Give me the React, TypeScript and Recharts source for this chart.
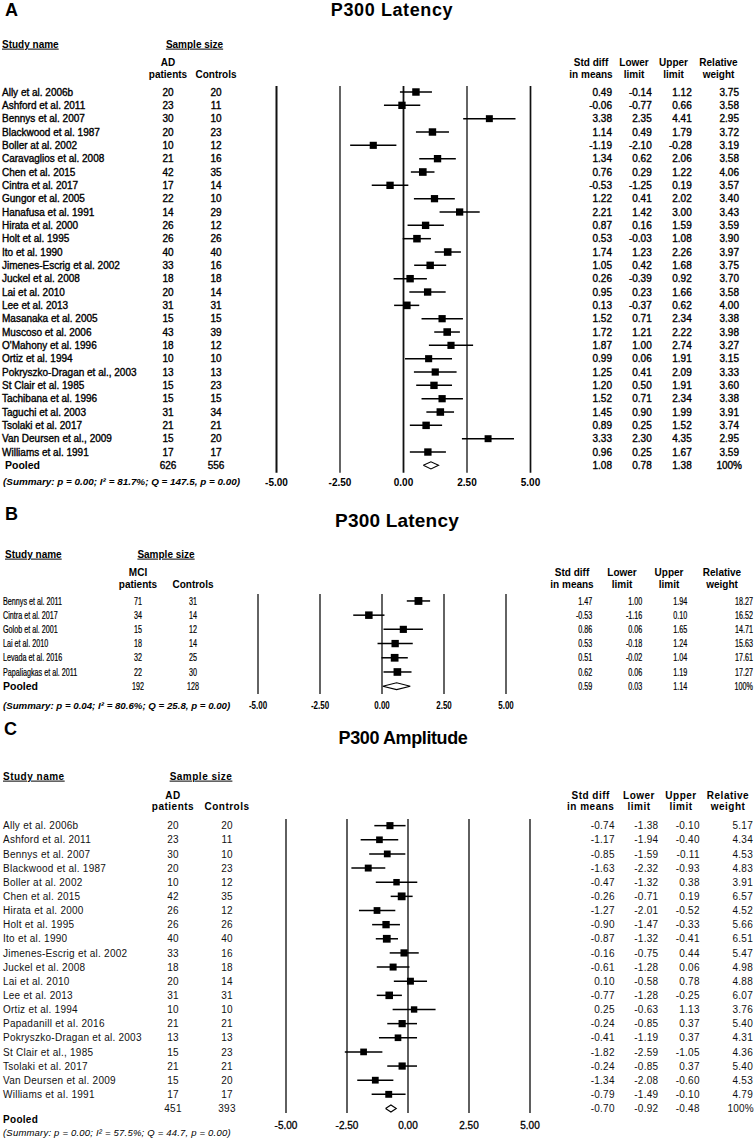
import React from 'react';
import { ScatterChart, Scatter, XAxis, YAxis, ReferenceLine, ErrorBar } from 'recharts';

const FONT = '"Liberation Sans", Arial, Helvetica, sans-serif';
const xTicks = [-5, -2.5, 0, 2.5, 5];

// ---------- Panel A: P300 Latency (AD) ----------
const aStudies = [
  'Ally et al. 2006b', 'Ashford et al. 2011', 'Bennys et al. 2007', 'Blackwood et al. 1987', 'Boller at al. 2002',
  'Caravaglios et al. 2008', 'Chen et al. 2015', 'Cintra et al. 2017', 'Gungor et al. 2005', 'Hanafusa et al. 1991',
  'Hirata et al. 2000', 'Holt et al. 1995', 'Ito et al. 1990', 'Jimenes-Escrig et al. 2002', 'Juckel et al. 2008',
  'Lai et al. 2010', 'Lee et al. 2013', 'Masanaka et al. 2005', 'Muscoso et al. 2006', "O'Mahony et al. 1996",
  'Ortiz et al. 1994', 'Pokryszko-Dragan et al., 2003', 'St Clair et al. 1985', 'Tachibana et al. 1996',
  'Taguchi et al. 2003', 'Tsolaki et al. 2017', 'Van Deursen et al., 2009', 'Williams et al. 1991',
];
const aPatients = [20, 23, 30, 20, 10, 21, 42, 17, 22, 14, 26, 26, 40, 33, 18, 20, 31, 15, 43, 18, 10, 13, 15, 15, 31, 21, 15, 17];
const aControls = [20, 11, 10, 23, 12, 16, 35, 14, 10, 29, 12, 26, 40, 16, 18, 14, 31, 15, 39, 12, 10, 13, 23, 15, 34, 21, 20, 17];
const aEs = [0.49, -0.06, 3.38, 1.14, -1.19, 1.34, 0.76, -0.53, 1.22, 2.21, 0.87, 0.53, 1.74, 1.05, 0.26, 0.95, 0.13, 1.52, 1.72, 1.87, 0.99, 1.25, 1.2, 1.52, 1.45, 0.89, 3.33, 0.96];
const aLower = [-0.14, -0.77, 2.35, 0.49, -2.1, 0.62, 0.29, -1.25, 0.41, 1.42, 0.16, -0.03, 1.23, 0.42, -0.39, 0.23, -0.37, 0.71, 1.21, 1.0, 0.06, 0.41, 0.5, 0.71, 0.9, 0.25, 2.3, 0.25];
const aUpper = [1.12, 0.66, 4.41, 1.79, -0.28, 2.06, 1.22, 0.19, 2.02, 3.0, 1.59, 1.08, 2.26, 1.68, 0.92, 1.66, 0.62, 2.34, 2.22, 2.74, 1.91, 2.09, 1.91, 2.34, 1.99, 1.52, 4.35, 1.67];
const aWeight = [3.75, 3.58, 2.95, 3.72, 3.19, 3.58, 4.06, 3.57, 3.4, 3.43, 3.59, 3.9, 3.97, 3.75, 3.7, 3.58, 4.0, 3.38, 3.98, 3.27, 3.15, 3.33, 3.6, 3.38, 3.91, 3.74, 2.95, 3.59];
const aPooled = { n1: 626, n2: 556, es: 1.08, lo: 0.78, hi: 1.38 };

// ---------- Panel B: P300 Latency (MCI) ----------
const bStudies = ['Bennys et al. 2011', 'Cintra et al. 2017', 'Golob et al. 2001', 'Lai et al. 2010', 'Levada et al. 2016', 'Papaliagkas et al. 2011'];
const bPatients = [71, 34, 15, 18, 32, 22];
const bControls = [31, 14, 12, 14, 25, 30];
const bEs = [1.47, -0.53, 0.86, 0.53, 0.51, 0.62];
const bLower = [1.0, -1.16, 0.06, -0.18, -0.02, 0.06];
const bUpper = [1.94, 0.1, 1.65, 1.24, 1.04, 1.19];
const bWeight = [18.27, 16.52, 14.71, 15.63, 17.61, 17.27];
const bPooled = { n1: 192, n2: 128, es: 0.59, lo: 0.03, hi: 1.14 };

// ---------- Panel C: P300 Amplitude (AD) ----------
const cStudies = [
  'Ally et al. 2006b', 'Ashford et al. 2011', 'Bennys et al. 2007', 'Blackwood et al. 1987', 'Boller at al. 2002',
  'Chen et al. 2015', 'Hirata et al. 2000', 'Holt et al. 1995', 'Ito et al. 1990', 'Jimenes-Escrig et al. 2002',
  'Juckel et al. 2008', 'Lai et al. 2010', 'Lee et al. 2013', 'Ortiz et al. 1994', 'Papadanill et al. 2016',
  'Pokryszko-Dragan et al. 2003', 'St Clair et al., 1985', 'Tsolaki et al. 2017', 'Van Deursen et al. 2009', 'Williams et al. 1991',
];
const cPatients = [20, 23, 30, 20, 10, 42, 26, 26, 40, 33, 18, 20, 31, 10, 21, 13, 15, 21, 15, 17];
const cControls = [20, 11, 10, 23, 12, 35, 12, 26, 40, 16, 18, 14, 31, 10, 21, 13, 23, 21, 20, 17];
const cEs = [-0.74, -1.17, -0.85, -1.63, -0.47, -0.26, -1.27, -0.9, -0.87, -0.16, -0.61, 0.1, -0.77, 0.25, -0.24, -0.41, -1.82, -0.24, -1.34, -0.79];
const cLower = [-1.38, -1.94, -1.59, -2.32, -1.32, -0.71, -2.01, -1.47, -1.32, -0.75, -1.28, -0.58, -1.28, -0.63, -0.85, -1.19, -2.59, -0.85, -2.08, -1.49];
const cUpper = [-0.1, -0.4, -0.11, -0.93, 0.38, 0.19, -0.52, -0.33, -0.41, 0.44, 0.06, 0.78, -0.25, 1.13, 0.37, 0.37, -1.05, 0.37, -0.6, -0.1];
const cWeight = [5.17, 4.34, 4.53, 4.83, 3.91, 6.57, 4.52, 5.66, 6.51, 5.47, 4.98, 4.88, 6.07, 3.76, 5.4, 4.31, 4.36, 5.4, 4.53, 4.79];
const cPooled = { n1: 451, n2: 393, es: -0.7, lo: -0.92, hi: -0.48 };

type Row = { name: string; n1: number; n2: number; es: number; lo: number; hi: number; w: number };
const makeRows = (names: string[], n1: number[], n2: number[], es: number[], lo: number[], hi: number[], w: number[]): Row[] =>
  names.map((name, i) => ({ name, n1: n1[i], n2: n2[i], es: es[i], lo: lo[i], hi: hi[i], w: w[i] }));

const fmt = (v: number) => v.toFixed(2);

type TS = { size?: number; weight?: string; italic?: boolean; sx?: number; ls?: number; stroke?: number; fill?: string; underline?: boolean };

function Txt(props: TS & { x: number; y: number; anchor?: string; children: any }) {
  const { x, y, anchor = 'start', size = 10, weight = 'normal', italic = false, sx = 1, ls = 0, stroke = 0, fill = '#000', underline = false, children } = props;
  return (
    <text
      transform={`translate(${x},${y}) scale(${sx},1)`}
      textAnchor={anchor as any}
      dy="0.36em"
      fontSize={size}
      fontWeight={weight}
      fontStyle={italic ? 'italic' : 'normal'}
      letterSpacing={ls}
      fill={fill}
      stroke={stroke ? fill : 'none'}
      strokeWidth={stroke}
      style={{ fontFamily: FONT, textDecoration: underline ? 'underline' : 'none' }}
    >
      {children}
    </text>
  );
}

type Cols = { name: number; n1: number; n2: number; es: number; lo: number; hi: number; w: number; wPooled: number; pooledName: number };

type PanelProps = {
  top: number;
  height: number;
  plotTop: number;
  plotBottom: number;
  plotLeft: number;
  plotRight: number;
  domain: [number, number];
  rows: Row[];
  pooled: { n1: number; n2: number; es: number; lo: number; hi: number };
  diamondH: number;
  side: (w: number) => number;
  rowStyle: TS;
  pooledNameStyle: TS | null;
  cols: Cols;
  lineWidths: number[];
  lineColor: string;
  tickStyle: TS;
  tickOffset: number;
  whisker: number;
};

function ForestPanel(p: PanelProps) {
  const n = p.rows.length;
  const pts = p.rows.map((r, i) => ({ x: r.es, y: i, w: r.w, err: [r.es - r.lo, r.hi - r.es] }));
  const d = p.pooled;
  const diamondPts = [
    { x: d.lo, y: n },
    { x: d.es, y: n - p.diamondH },
    { x: d.hi, y: n },
    { x: d.es, y: n + p.diamondH },
    { x: d.lo, y: n },
  ];
  const yTicks = Array.from({ length: n + 1 }, (_, i) => i);
  const rs = p.rowStyle;
  const c = p.cols;

  const RowTick = (tp: any) => {
    const y = tp.y;
    const i = tp.payload.value;
    if (i < n) {
      const r = p.rows[i];
      return (
        <g>
          <Txt x={c.name} y={y} {...rs}>{r.name}</Txt>
          <Txt x={c.n1} y={y} anchor="middle" {...rs}>{r.n1}</Txt>
          <Txt x={c.n2} y={y} anchor="middle" {...rs}>{r.n2}</Txt>
          <Txt x={c.es} y={y} anchor="end" {...rs}>{fmt(r.es)}</Txt>
          <Txt x={c.lo} y={y} anchor="end" {...rs}>{fmt(r.lo)}</Txt>
          <Txt x={c.hi} y={y} anchor="end" {...rs}>{fmt(r.hi)}</Txt>
          <Txt x={c.w} y={y} anchor="end" {...rs}>{fmt(r.w)}</Txt>
        </g>
      );
    }
    return (
      <g>
        {p.pooledNameStyle && (
          <Txt x={c.pooledName} y={y} {...p.pooledNameStyle}>Pooled</Txt>
        )}
        <Txt x={c.n1} y={y} anchor="middle" {...rs}>{d.n1}</Txt>
        <Txt x={c.n2} y={y} anchor="middle" {...rs}>{d.n2}</Txt>
        <Txt x={c.es} y={y} anchor="end" {...rs}>{fmt(d.es)}</Txt>
        <Txt x={c.lo} y={y} anchor="end" {...rs}>{fmt(d.lo)}</Txt>
        <Txt x={c.hi} y={y} anchor="end" {...rs}>{fmt(d.hi)}</Txt>
        <Txt x={c.wPooled} y={y} anchor="end" {...rs}>100%</Txt>
      </g>
    );
  };

  const XTick = (tp: any) => (
    <Txt x={tp.x} y={tp.y + p.tickOffset} anchor="middle" {...p.tickStyle}>{fmt(tp.payload.value)}</Txt>
  );

  const Square = (sp: any) => {
    const s = p.side(sp.payload.w);
    return <rect x={sp.cx - s / 2} y={sp.cy - s / 2} width={s} height={s} fill="#000" />;
  };

  const yW = 10;
  const margin = {
    top: p.plotTop - p.top,
    right: 754 - p.plotRight,
    bottom: p.top + p.height - p.plotBottom - 20,
    left: p.plotLeft - yW,
  };

  return (
    <div style={{ position: 'absolute', left: 0, top: p.top, width: 754, height: p.height }}>
      <ScatterChart width={754} height={p.height} margin={margin}>
        <XAxis
          type="number"
          dataKey="x"
          domain={[-5, 5]}
          ticks={xTicks}
          interval={0}
          axisLine={false}
          tickLine={false}
          tickSize={0}
          tickMargin={0}
          height={20}
          tick={XTick}
          allowDataOverflow
        />
        <YAxis
          type="number"
          dataKey="y"
          domain={p.domain}
          reversed
          ticks={yTicks}
          interval={0}
          axisLine={false}
          tickLine={false}
          tickSize={0}
          width={yW}
          tick={RowTick}
          allowDataOverflow
        />
        {xTicks.map((v, k) => (
          <ReferenceLine key={k} x={v} stroke={p.lineColor} strokeWidth={p.lineWidths[k]} />
        ))}
        <Scatter data={pts} isAnimationActive={false} shape={Square}>
          <ErrorBar dataKey="err" direction="x" width={0} stroke="#000" strokeWidth={p.whisker} isAnimationActive={false} />
        </Scatter>
        <Scatter
          data={diamondPts}
          isAnimationActive={false}
          line={{ stroke: '#000', strokeWidth: 1.1, fill: 'none' }}
          lineType="joint"
          shape={() => <g />}
        />
      </ScatterChart>
    </div>
  );
}

const aRows = makeRows(aStudies, aPatients, aControls, aEs, aLower, aUpper, aWeight);
const bRows = makeRows(bStudies, bPatients, bControls, bEs, bLower, bUpper, bWeight);
const cRows = makeRows(cStudies, cPatients, cControls, cEs, cLower, cUpper, cWeight);

const aRowStyle: TS = { size: 10, stroke: 0.35 };
const aHead: TS = { size: 10, weight: 'bold' };
const bRowStyle: TS = { size: 10, sx: 0.72, stroke: 0.2 };
const bHead: TS = { size: 10, weight: 'bold' };
const cRowStyle: TS = { size: 10, ls: 0.25, fill: '#111' };
const cHead: TS = { size: 10, weight: 'bold', ls: 0.5 };

function Overlay() {
  return (
    <svg width={754} height={1139} style={{ position: 'absolute', left: 0, top: 0, pointerEvents: 'none' }}>
      {/* Panel A */}
      <Txt x={5} y={10} size={18} weight="bold">A</Txt>
      <Txt x={392} y={10} anchor="middle" size={18} weight="bold" ls={0.6}>P300 Latency</Txt>
      <Txt x={2} y={44} {...aHead} underline>Study name</Txt>
      <Txt x={194.5} y={44} anchor="middle" {...aHead} underline>Sample size</Txt>
      <Txt x={168} y={62} anchor="middle" {...aHead}>AD</Txt>
      <Txt x={168} y={74} anchor="middle" {...aHead}>patients</Txt>
      <Txt x={216} y={74} anchor="middle" {...aHead}>Controls</Txt>
      <Txt x={591} y={62} anchor="middle" {...aHead}>Std diff</Txt>
      <Txt x={591} y={74} anchor="middle" {...aHead}>in means</Txt>
      <Txt x={634} y={62} anchor="middle" {...aHead}>Lower</Txt>
      <Txt x={634} y={74} anchor="middle" {...aHead}>limit</Txt>
      <Txt x={673.5} y={62} anchor="middle" {...aHead}>Upper</Txt>
      <Txt x={673.5} y={74} anchor="middle" {...aHead}>limit</Txt>
      <Txt x={718.5} y={62} anchor="middle" {...aHead}>Relative</Txt>
      <Txt x={718.5} y={74} anchor="middle" {...aHead}>weight</Txt>
      <Txt x={3} y={481} size={9.9} weight="bold" italic>(Summary: p = 0.00; I² = 81.7%; Q = 147.5, p = 0.00)</Txt>

      {/* Panel B */}
      <Txt x={5} y={514} size={18} weight="bold">B</Txt>
      <Txt x={397} y={520} anchor="middle" size={19} weight="bold" ls={0.2}>P300 Latency</Txt>
      <Txt x={5} y={554} {...bHead} underline>Study name</Txt>
      <Txt x={166} y={554} anchor="middle" {...bHead} underline>Sample size</Txt>
      <Txt x={138} y={572} anchor="middle" {...bHead}>MCI</Txt>
      <Txt x={138} y={584} anchor="middle" {...bHead}>patients</Txt>
      <Txt x={193} y={584} anchor="middle" {...bHead}>Controls</Txt>
      <Txt x={572} y={572} anchor="middle" {...bHead}>Std diff</Txt>
      <Txt x={572} y={584} anchor="middle" {...bHead}>in means</Txt>
      <Txt x={622} y={572} anchor="middle" {...bHead}>Lower</Txt>
      <Txt x={622} y={584} anchor="middle" {...bHead}>limit</Txt>
      <Txt x={669} y={572} anchor="middle" {...bHead}>Upper</Txt>
      <Txt x={669} y={584} anchor="middle" {...bHead}>limit</Txt>
      <Txt x={722} y={572} anchor="middle" {...bHead}>Relative</Txt>
      <Txt x={722} y={584} anchor="middle" {...bHead}>weight</Txt>
      <Txt x={3} y={705.7} size={9.7} weight="bold" italic>(Summary: p = 0.04; I² = 80.6%; Q = 25.8, p = 0.00)</Txt>

      {/* Panel C */}
      <Txt x={4} y={729} size={18} weight="bold">C</Txt>
      <Txt x={403} y={738} anchor="middle" size={18} weight="bold" ls={-0.4}>P300 Amplitude</Txt>
      <Txt x={3} y={776} {...cHead} underline>Study name</Txt>
      <Txt x={201} y={776} anchor="middle" {...cHead} underline>Sample size</Txt>
      <Txt x={173} y={795} anchor="middle" {...cHead}>AD</Txt>
      <Txt x={173} y={806.7} anchor="middle" {...cHead}>patients</Txt>
      <Txt x={227} y={806.7} anchor="middle" {...cHead}>Controls</Txt>
      <Txt x={590.7} y={795} anchor="middle" {...cHead}>Std diff</Txt>
      <Txt x={590.7} y={806.7} anchor="middle" {...cHead}>in means</Txt>
      <Txt x={639} y={795} anchor="middle" {...cHead}>Lower</Txt>
      <Txt x={639} y={806.7} anchor="middle" {...cHead}>limit</Txt>
      <Txt x={681} y={795} anchor="middle" {...cHead}>Upper</Txt>
      <Txt x={681} y={806.7} anchor="middle" {...cHead}>limit</Txt>
      <Txt x={728} y={795} anchor="middle" {...cHead}>Relative</Txt>
      <Txt x={728} y={806.7} anchor="middle" {...cHead}>weight</Txt>
      <Txt x={3} y={1119} size={10} weight="bold" ls={0.3}>Pooled</Txt>
      <Txt x={3} y={1132.5} size={9.5} italic ls={0.2}>(Summary: p = 0.00; I² = 57.5%; Q = 44.7, p = 0.00)</Txt>
    </svg>
  );
}

export default function App() {
  return (
    <div style={{ position: 'absolute', left: 0, top: 0, width: 754, height: 1139, background: '#fff', overflow: 'hidden' }}>
      <ForestPanel
        top={0}
        height={500}
        plotTop={86}
        plotBottom={472.7}
        plotLeft={276.5}
        plotRight={530.5}
        domain={[-0.45, 28.55]}
        rows={aRows}
        pooled={aPooled}
        diamondH={0.27}
        side={(w) => 5.2 + w * 0.6}
        rowStyle={aRowStyle}
        pooledNameStyle={{ size: 10.5, weight: 'bold' }}
        cols={{ name: 2, n1: 168, n2: 216, es: 612, lo: 651.7, hi: 691.7, w: 739, wPooled: 742, pooledName: 5 }}
        lineWidths={[2, 1.3, 1.8, 1.3, 1.7]}
        lineColor="#111"
        tickStyle={{ size: 10, weight: 'bold' }}
        tickOffset={9.3}
        whisker={1.5}
      />
      <ForestPanel
        top={500}
        height={220}
        plotTop={594}
        plotBottom={694}
        plotLeft={258}
        plotRight={506}
        domain={[-0.49, 6.55]}
        rows={bRows}
        pooled={bPooled}
        diamondH={0.24}
        side={(w) => 4.2 + w * 0.2}
        rowStyle={bRowStyle}
        pooledNameStyle={{ size: 10.5, weight: 'bold' }}
        cols={{ name: 3, n1: 138, n2: 193, es: 592.3, lo: 642.3, hi: 687.3, w: 753, wPooled: 753, pooledName: 3 }}
        lineWidths={[1.4, 1.4, 1.4, 1.4, 1.4]}
        lineColor="#222"
        tickStyle={{ size: 10, weight: 'bold', sx: 0.8 }}
        tickOffset={11.7}
        whisker={1.5}
      />
      <ForestPanel
        top={720}
        height={419}
        plotTop={819}
        plotBottom={1113}
        plotLeft={286}
        plotRight={530}
        domain={[-0.47, 20.32]}
        rows={cRows}
        pooled={cPooled}
        diamondH={0.25}
        side={(w) => 4.5 + w * 0.5}
        rowStyle={cRowStyle}
        pooledNameStyle={null}
        cols={{ name: 3, n1: 173, n2: 227, es: 614.7, lo: 658.3, hi: 699.7, w: 753, wPooled: 754, pooledName: 3 }}
        lineWidths={[1.7, 1.7, 1.7, 1.7, 1.7]}
        lineColor="#444"
        tickStyle={{ size: 10, stroke: 0.3 }}
        tickOffset={12.7}
        whisker={1.5}
      />
      <Overlay />
    </div>
  );
}
